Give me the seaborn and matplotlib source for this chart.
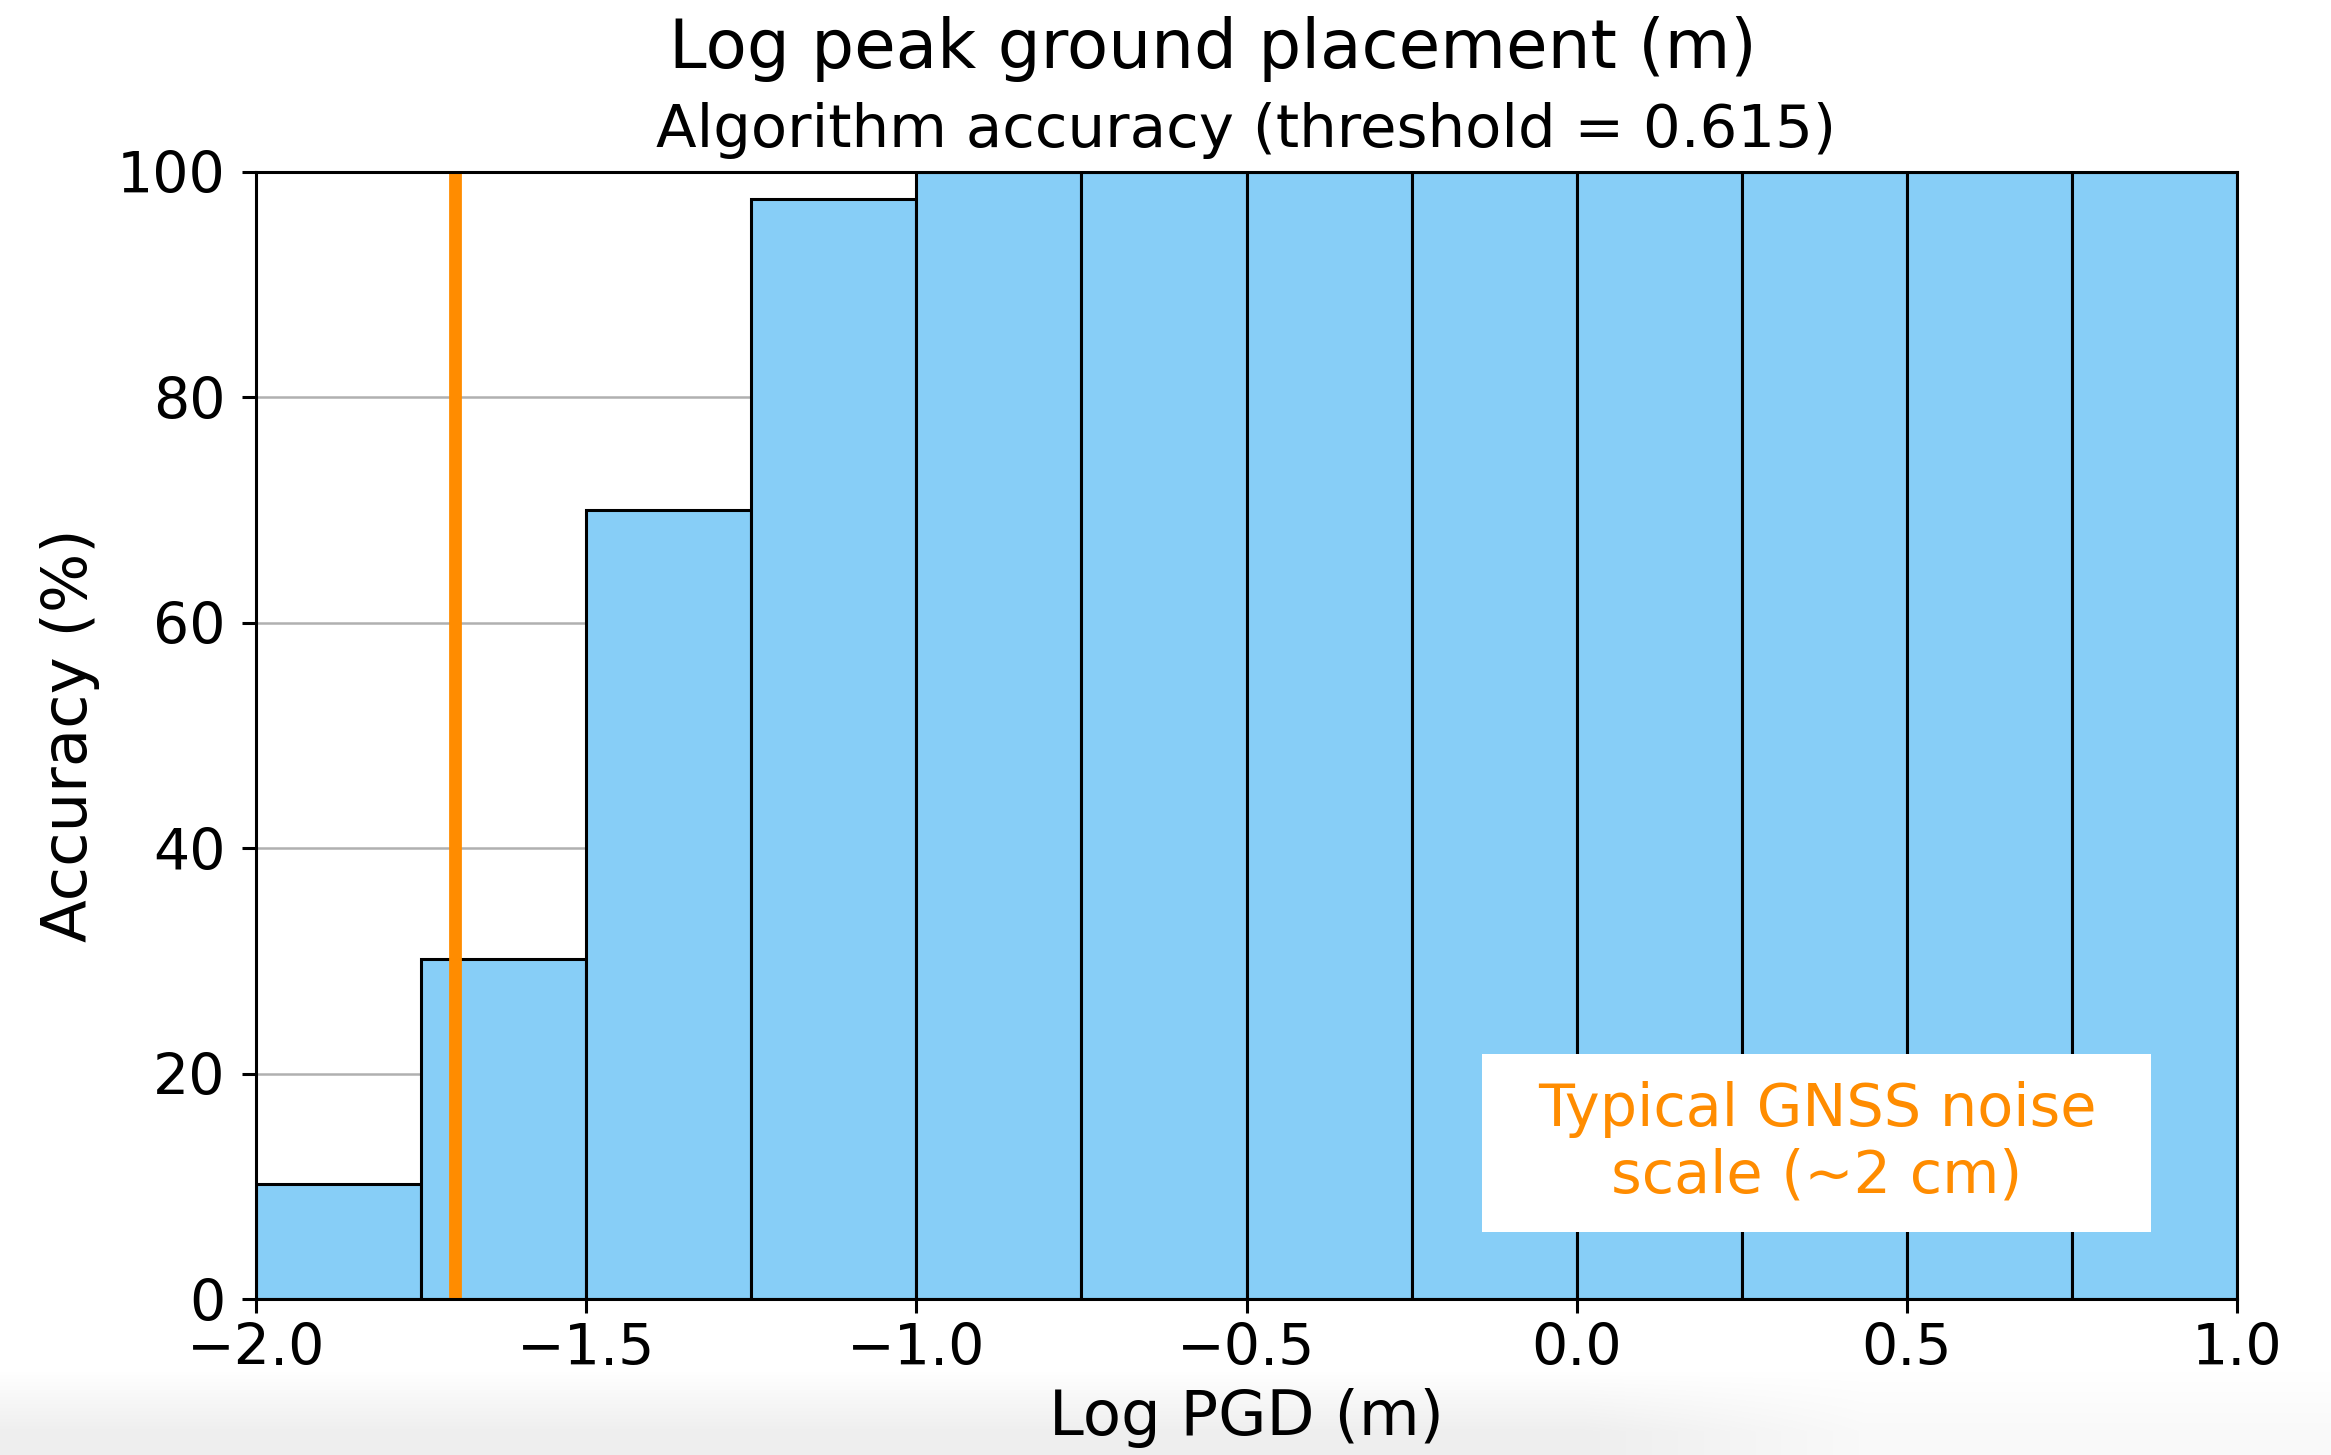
import numpy as np
import pandas as pd
import matplotlib
matplotlib.use("Agg")
import matplotlib.pyplot as plt
from matplotlib.patches import Rectangle
import seaborn as sns

# Log10 PGD bin edges (m) and per-bin classification accuracy (%)
bin_edges = [-2.0, -1.75, -1.5, -1.25, -1.0, -0.75, -0.5, -0.25,
             0.0, 0.25, 0.5, 0.75, 1.0]
accuracy = [10.2, 30.2, 70.0, 97.6, 100.0, 100.0, 100.0, 100.0,
            100.0, 100.0, 100.0, 100.0]
gnss_noise_m = 0.02
threshold = 0.615

x_ticks = [-2.0, -1.5, -1.0, -0.5, 0.0, 0.5, 1.0]
y_ticks = [0, 20, 40, 60, 80, 100]

df = pd.DataFrame({"log_pgd": bin_edges[:-1], "accuracy": accuracy})

DPI = 200
fig = plt.figure(figsize=(2331 / DPI, 1455 / DPI), dpi=DPI)

# soft grey shading along the bottom edge of the slide
bg = fig.add_axes([0, 0, 1, 1], zorder=-10)
h, w = 1455, 2331
yy = np.linspace(0, 1, h)[:, None]
xx = np.linspace(0, 1, w)[None, :]
vert = np.clip((yy * h - 1372) / 60.0, 0, 1)
horiz = np.clip((0.80 - xx) / 0.12, 0, 1)
shade = 1.0 - 0.065 * vert * (0.35 + 0.65 * horiz)
bg.imshow(np.dstack([shade, shade, shade]), aspect="auto", extent=[0, 1, 0, 1],
          origin="upper")
bg.set_axis_off()

ax = fig.add_axes([0.1098, 0.1072, 0.9597 - 0.1098, 0.8818 - 0.1072])
ax.patch.set_alpha(1.0)

sns.histplot(data=df, x="log_pgd", weights="accuracy", bins=bin_edges,
             color="#87CEF7", edgecolor="black", linewidth=1.1, alpha=1.0,
             ax=ax, zorder=2)

ax.axvline(np.log10(gnss_noise_m), color="#FF8C00", linewidth=4.6, zorder=3)

ax.set_xlim(-2.0, 1.0)
ax.set_ylim(0, 100)
ax.set_xticks(x_ticks)
ax.set_yticks(y_ticks)
ax.set_axisbelow(True)
ax.grid(axis="y", color="#b0b0b0", linewidth=0.9)
ax.grid(axis="x", visible=False)
for sp in ax.spines.values():
    sp.set_linewidth(1.1)
    sp.set_zorder(5)
ax.tick_params(axis="both", labelsize=20.5, length=4.9, width=1.1)
ax.tick_params(axis="y", pad=6)
ax.tick_params(axis="x", pad=3.5)

ax.set_xlabel("Log PGD (m)", fontsize=22.5, labelpad=4)
ax.set_ylabel("Accuracy (%)", fontsize=22.5, labelpad=6)
ax.set_title(f"Algorithm accuracy (threshold = {threshold})", fontsize=21.4,
             pad=9)
fig.text(0.5204, 0.966, "Log peak ground placement (m)", fontsize=24.3,
         ha="center", va="center")

# annotation box for the GNSS noise line
ax.add_patch(Rectangle((0.619, 0.0595), 0.9566 - 0.619, 0.2174 - 0.0595,
                       transform=ax.transAxes, facecolor="white",
                       edgecolor="none", zorder=6))
ax.text(0.788, 0.1385, "Typical GNSS noise\nscale (~2 cm)",
        transform=ax.transAxes, ha="center", va="center", fontsize=21.2,
        color="#FF8C00", linespacing=1.2, zorder=7)

fig.savefig("out.png", dpi=DPI)
